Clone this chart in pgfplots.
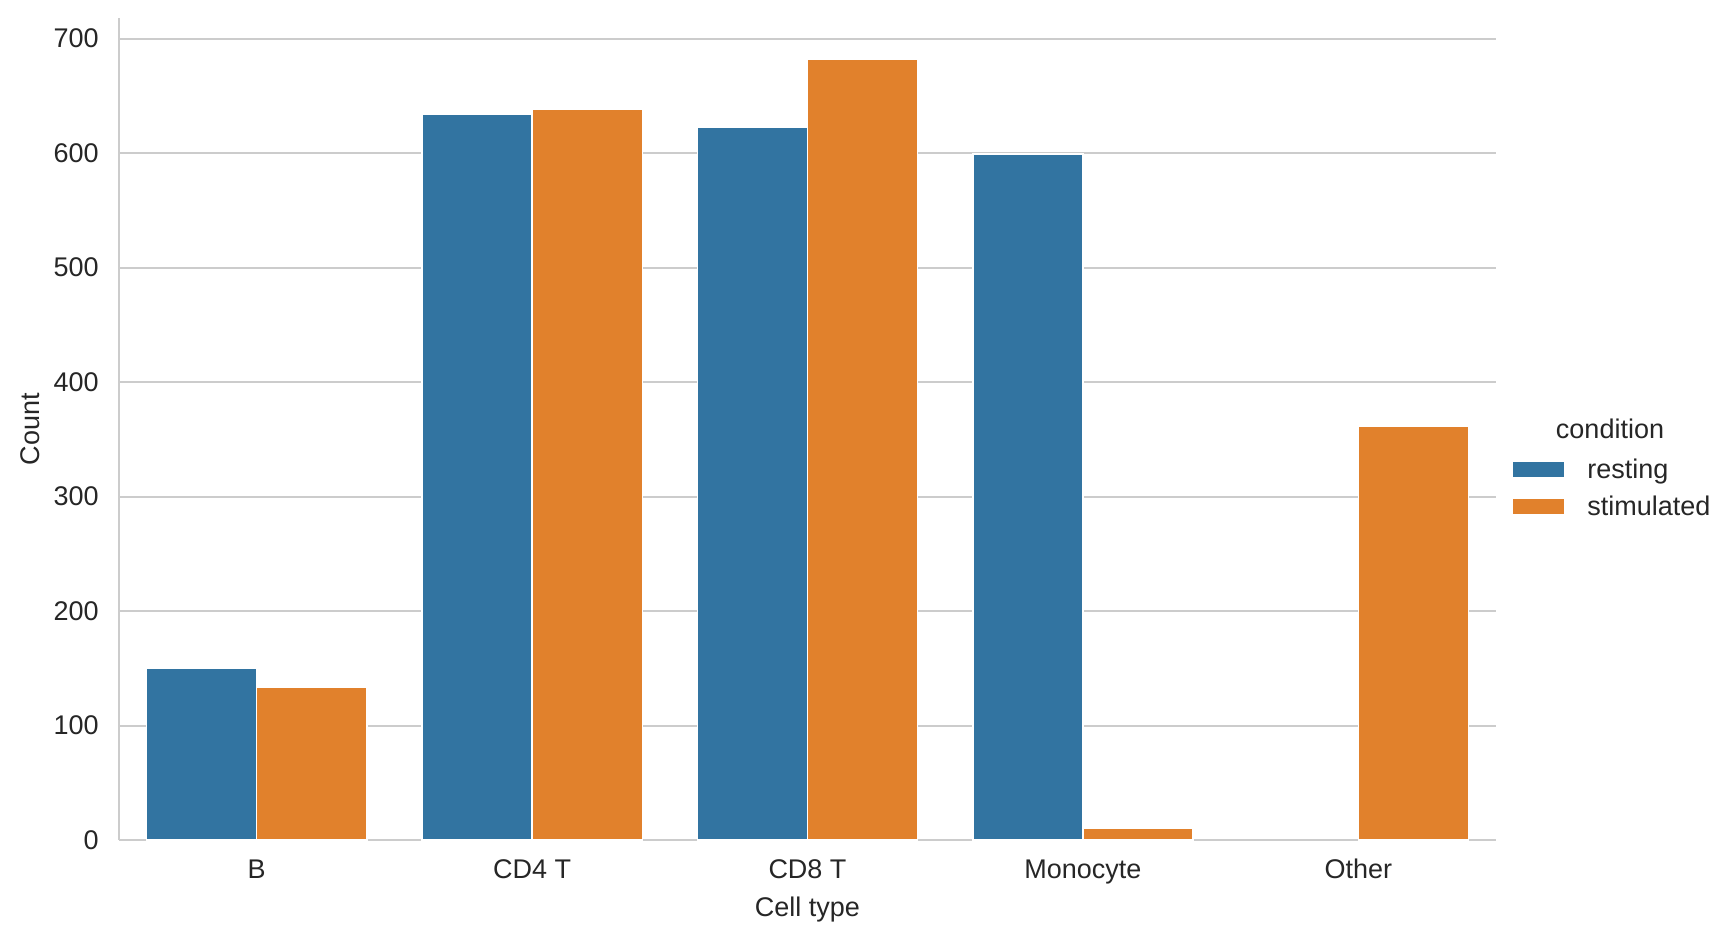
\documentclass[border=0pt]{standalone}
\usepackage{pgfplots}
\pgfplotsset{compat=1.18}
\usepackage{fontspec}
\setmainfont{Liberation Sans}
\definecolor{sbblue}{HTML}{3274A1}
\definecolor{sborange}{HTML}{E1812C}
\definecolor{gridc}{HTML}{CCCCCC}
\definecolor{txt}{HTML}{262626}
\pgfplotsset{
  layers/mylayers/.define layer set={axis background,axis grid,pre main,main,axis ticks,axis lines,axis tick labels,axis descriptions,axis foreground}{},
}
\begin{document}
\begin{tikzpicture}
\begin{axis}[
  set layers=mylayers,
  at={(0,0)}, anchor=south west,
  scale only axis, width=688.5pt, height=411pt,
  xmin=-0.5, xmax=4.5, ymin=0, ymax=718,
  xtick={0,1,2,3,4},
  xticklabels={B, CD4 T, CD8 T, Monocyte, Other},
  ytick={0,100,...,700},
  /pgf/number format/assume math mode=true,
  tick style={draw=none},
  major tick length=0pt,
  axis x line*=bottom, axis y line*=left,
  axis line style={draw=gridc, line width=1pt, -},
  ymajorgrids, major grid style={draw=gridc, line width=1pt},
  font=\fontsize{13.5}{16}\selectfont,
  every tick label/.append style={text=txt, font=\fontsize{13.5}{16}\selectfont},
  xticklabel style={anchor=base, yshift=-19.5pt, inner sep=0pt},
  yticklabel style={anchor=east, inner sep=0pt, xshift=-10pt},
  xlabel={Cell type}, ylabel={Count},
  xlabel style={at={(axis description cs:0.5,0)}, anchor=base, yshift=-38.5pt, inner sep=0pt, text=txt},
  ylabel style={at={(axis description cs:-0.0646,0.5)}, anchor=center, inner sep=0pt, text=txt},
  clip=false,
  legend cell align=left,
  legend image code/.code={\fill[#1, draw=none] (0pt,-2.75pt) rectangle (25.5pt,4.75pt);},
  legend style={at={(axis description cs:1,0.4260)}, anchor=west, xshift=8.5pt,
    draw=none, fill=none, inner sep=0pt, row sep=5.5pt,
    nodes={inner sep=0pt, text height=10pt, text depth=3pt, text=txt},
    font=\fontsize{13.5}{16}\selectfont},
  legend columns=1,
]
\addplot[ybar, bar width=0.4, bar shift=-0.2, fill=sbblue, draw=white, line width=0.75pt]
  coordinates {(0,150) (1,634) (2,623) (3,599)};
\addlegendentry{\hspace{11.5pt}resting}
\addplot[ybar, bar width=0.4, bar shift=0.2, fill=sborange, draw=white, line width=0.75pt]
  coordinates {(0,133) (1,638) (2,682) (3,10) (4,361)};
\addlegendentry{\hspace{11.5pt}stimulated}
\node[anchor=base, text=txt, font=\fontsize{13.5}{16}\selectfont, inner sep=0pt]
  at ([xshift=1610pt/2-119pt/2]rel axis cs:0,0.4885) {condition};
\end{axis}
\pgfresetboundingbox
\path[use as bounding box] (-59.5pt,-50pt) rectangle (807.5pt,420pt);
\end{tikzpicture}
\end{document}
